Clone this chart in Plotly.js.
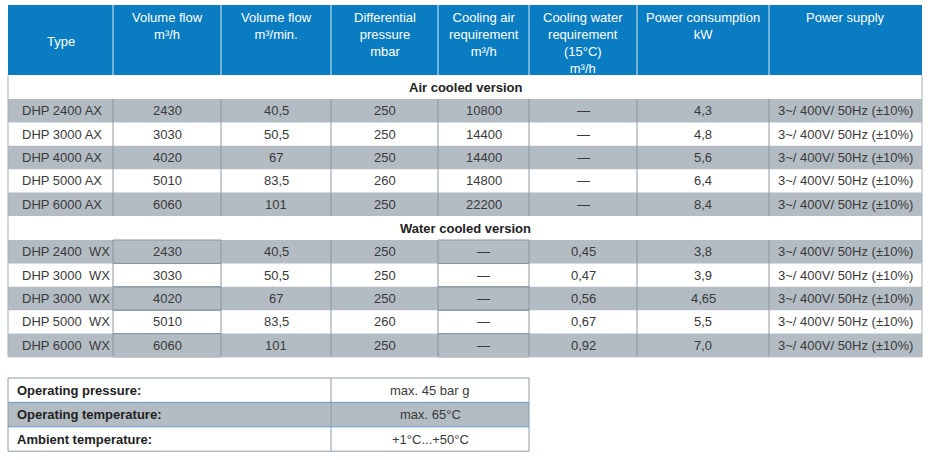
<!DOCTYPE html>
<html>
<head>
<meta charset="utf-8">
<script src="https://cdn.plot.ly/plotly-3.0.1.min.js"></script>
<style>html,body{margin:0;padding:0;background:#fff;}#chart{width:931px;height:460px;}</style>
</head>
<body>
<div id="chart"></div>
<script>
// ---------- DATA ----------
const headers = ["Type", "Volume flow<br>m³/h", "Volume flow<br>m³/min.", "Differential<br>pressure<br>mbar",
  "Cooling air<br>requirement<br>m³/h", "Cooling water<br>requirement<br>(15°C)<br>m³/h", "Power consumption<br>kW", "Power supply"];
const sections = ["Air cooled version", "Water cooled version"];

const airType = ["DHP 2400 AX", "DHP 3000 AX", "DHP 4000 AX", "DHP 5000 AX", "DHP 6000 AX"];
const airFlowH = ["2430", "3030", "4020", "5010", "6060"];
const airFlowMin = ["40,5", "50,5", "67", "83,5", "101"];
const airDiffPressure = ["250", "250", "250", "260", "250"];
const airCoolingAir = ["10800", "14400", "14400", "14800", "22200"];
const airCoolingWater = ["—", "—", "—", "—", "—"];
const airPower = ["4,3", "4,8", "5,6", "6,4", "8,4"];
const airSupply = ["3~/ 400V/ 50Hz (±10%)", "3~/ 400V/ 50Hz (±10%)", "3~/ 400V/ 50Hz (±10%)", "3~/ 400V/ 50Hz (±10%)", "3~/ 400V/ 50Hz (±10%)"];

const waterType = ["DHP 2400\u00a0 WX", "DHP 3000\u00a0 WX", "DHP 3000\u00a0 WX", "DHP 5000\u00a0 WX", "DHP 6000\u00a0 WX"];
const waterFlowH = ["2430", "3030", "4020", "5010", "6060"];
const waterFlowMin = ["40,5", "50,5", "67", "83,5", "101"];
const waterDiffPressure = ["250", "250", "250", "260", "250"];
const waterCoolingAir = ["—", "—", "—", "—", "—"];
const waterCoolingWater = ["0,45", "0,47", "0,56", "0,67", "0,92"];
const waterPower = ["3,8", "3,9", "4,65", "5,5", "7,0"];
const waterSupply = ["3~/ 400V/ 50Hz (±10%)", "3~/ 400V/ 50Hz (±10%)", "3~/ 400V/ 50Hz (±10%)", "3~/ 400V/ 50Hz (±10%)", "3~/ 400V/ 50Hz (±10%)"];

const footerLabels = ["Operating pressure:", "Operating temperature:", "Ambient temperature:"];
const footerValues = ["max. 45 bar g", "max. 65°C", "+1°C...+50°C"];

// ---------- LAYOUT / STYLE ----------
const colEdges = [8, 113, 221, 331, 438, 529, 637, 769, 922];
const headerTop = 5, headerBottom = 75;
const labelH = 24, rowH = 23.4;
const footTop = 378, footRowH = 24.4;
const footEdges = [8, 331, 529];

const BLUE = "#0a7cc1";
const GRAY = "#b3bcc3";
const LINE = "#8a959d";
const TEXT = "#3a3a3a";
const FONT = "Liberation Sans, Arial, sans-serif";

const shapes = [];
const annotations = [];
function rect(x0, y0, x1, y1, fill, line) {
  shapes.push({type: "rect", xref: "x", yref: "y", x0, y0, x1, y1, fillcolor: fill,
    line: line ? {color: line, width: 1} : {width: 0}, layer: "below"});
}
function seg(x0, y0, x1, y1, color, w) {
  shapes.push({type: "line", xref: "x", yref: "y", x0, y0, x1, y1, line: {color, width: w || 1}});
}
function text(x, y, t, opts) {
  annotations.push(Object.assign({xref: "x", yref: "y", x, y, text: t, showarrow: false,
    xanchor: "center", yanchor: "middle", font: {family: FONT, size: 13, color: TEXT}}, opts || {}));
}

const tableLeft = colEdges[0], tableRight = colEdges[colEdges.length - 1];

// Header
rect(tableLeft, headerTop, tableRight, headerBottom, BLUE);
for (let i = 1; i < colEdges.length - 1; i++) seg(colEdges[i], headerTop, colEdges[i], headerBottom, "rgba(255,255,255,0.85)", 1);
headers.forEach((h, i) => {
  const cx = (colEdges[i] + colEdges[i + 1]) / 2;
  if (i === 0) text(cx, (headerTop + headerBottom) / 2 + 1, h, {font: {family: FONT, size: 13, color: "#fff"}});
  else text(cx, headerTop + 3, h, {yanchor: "top", font: {family: FONT, size: 13, color: "#fff"}});
});

// Sections
const sectionData = [
  [airType, airFlowH, airFlowMin, airDiffPressure, airCoolingAir, airCoolingWater, airPower, airSupply],
  [waterType, waterFlowH, waterFlowMin, waterDiffPressure, waterCoolingAir, waterCoolingWater, waterPower, waterSupply]
];
const boxedCols = [[], [1, 4]];
let y = headerBottom;
sectionData.forEach((cols, s) => {
  // label row
  seg(tableLeft, y, tableLeft, y + labelH, "#a9b1b7");
  seg(tableRight, y, tableRight, y + labelH, "#a9b1b7");
  text((tableLeft + tableRight) / 2, y + labelH / 2, "<b>" + sections[s] + "</b>", {font: {family: FONT, size: 13, color: "#222"}});
  y += labelH;
  const nRows = cols[0].length;
  const top = y;
  for (let r = 0; r < nRows; r++) {
    const y0 = y + r * rowH, y1 = y0 + rowH;
    if (r % 2 === 0) rect(tableLeft, y0, tableRight, y1, GRAY);
    cols.forEach((col, c) => {
      const cx = (colEdges[c] + colEdges[c + 1]) / 2;
      if (c === 0) text(colEdges[c] + 12, (y0 + y1) / 2, col[r], {xanchor: "left"});
      else if (c === cols.length - 1) text(colEdges[c] + 7, (y0 + y1) / 2, col[r], {xanchor: "left"});
      else text(cx, (y0 + y1) / 2, col[r]);
      if (boxedCols[s].includes(c)) {
        seg(colEdges[c], y0, colEdges[c + 1], y0, LINE);
        seg(colEdges[c], y1, colEdges[c + 1], y1, LINE);
      }
    });
  }
  const bottom = y + nRows * rowH;
  colEdges.forEach((e, i) => seg(e, top, e, bottom, (i === 0 || i === colEdges.length - 1) ? "#a9b1b7" : LINE));
  y = bottom;
});
seg(tableLeft, y, tableRight, y, "#c4cad0");

// Footer table
footerLabels.forEach((lab, r) => {
  const y0 = footTop + r * footRowH, y1 = y0 + footRowH;
  if (r % 2 === 1) rect(footEdges[0], y0, footEdges[2], y1, GRAY);
  text(footEdges[0] + 7, (y0 + y1) / 2, "<b>" + lab + "</b>", {xanchor: "left", font: {family: FONT, size: 13, color: "#222"}});
  text((footEdges[1] + footEdges[2]) / 2, (y0 + y1) / 2, footerValues[r]);
  if (r > 0) seg(footEdges[0], y0, footEdges[2], y0, "#5b9fd0");
});
const footBottom = footTop + footerLabels.length * footRowH;
shapes.push({type: "rect", xref: "x", yref: "y", x0: footEdges[0], y0: footTop, x1: footEdges[2], y1: footBottom,
  line: {color: "#8c9aa6", width: 1}, fillcolor: "rgba(0,0,0,0)"});
seg(footEdges[1], footTop, footEdges[1], footBottom, "#8c9aa6");

Plotly.newPlot("chart", [{type: "scatter", x: [], y: [], hoverinfo: "skip", showlegend: false}], {
  width: 931, height: 460,
  margin: {l: 0, r: 0, t: 0, b: 0, pad: 0},
  paper_bgcolor: "#fff", plot_bgcolor: "#fff",
  xaxis: {range: [0, 931], visible: false, fixedrange: true},
  yaxis: {range: [460, 0], visible: false, fixedrange: true},
  shapes, annotations, showlegend: false
}, {displayModeBar: false, staticPlot: true});
</script>
</body>
</html>
